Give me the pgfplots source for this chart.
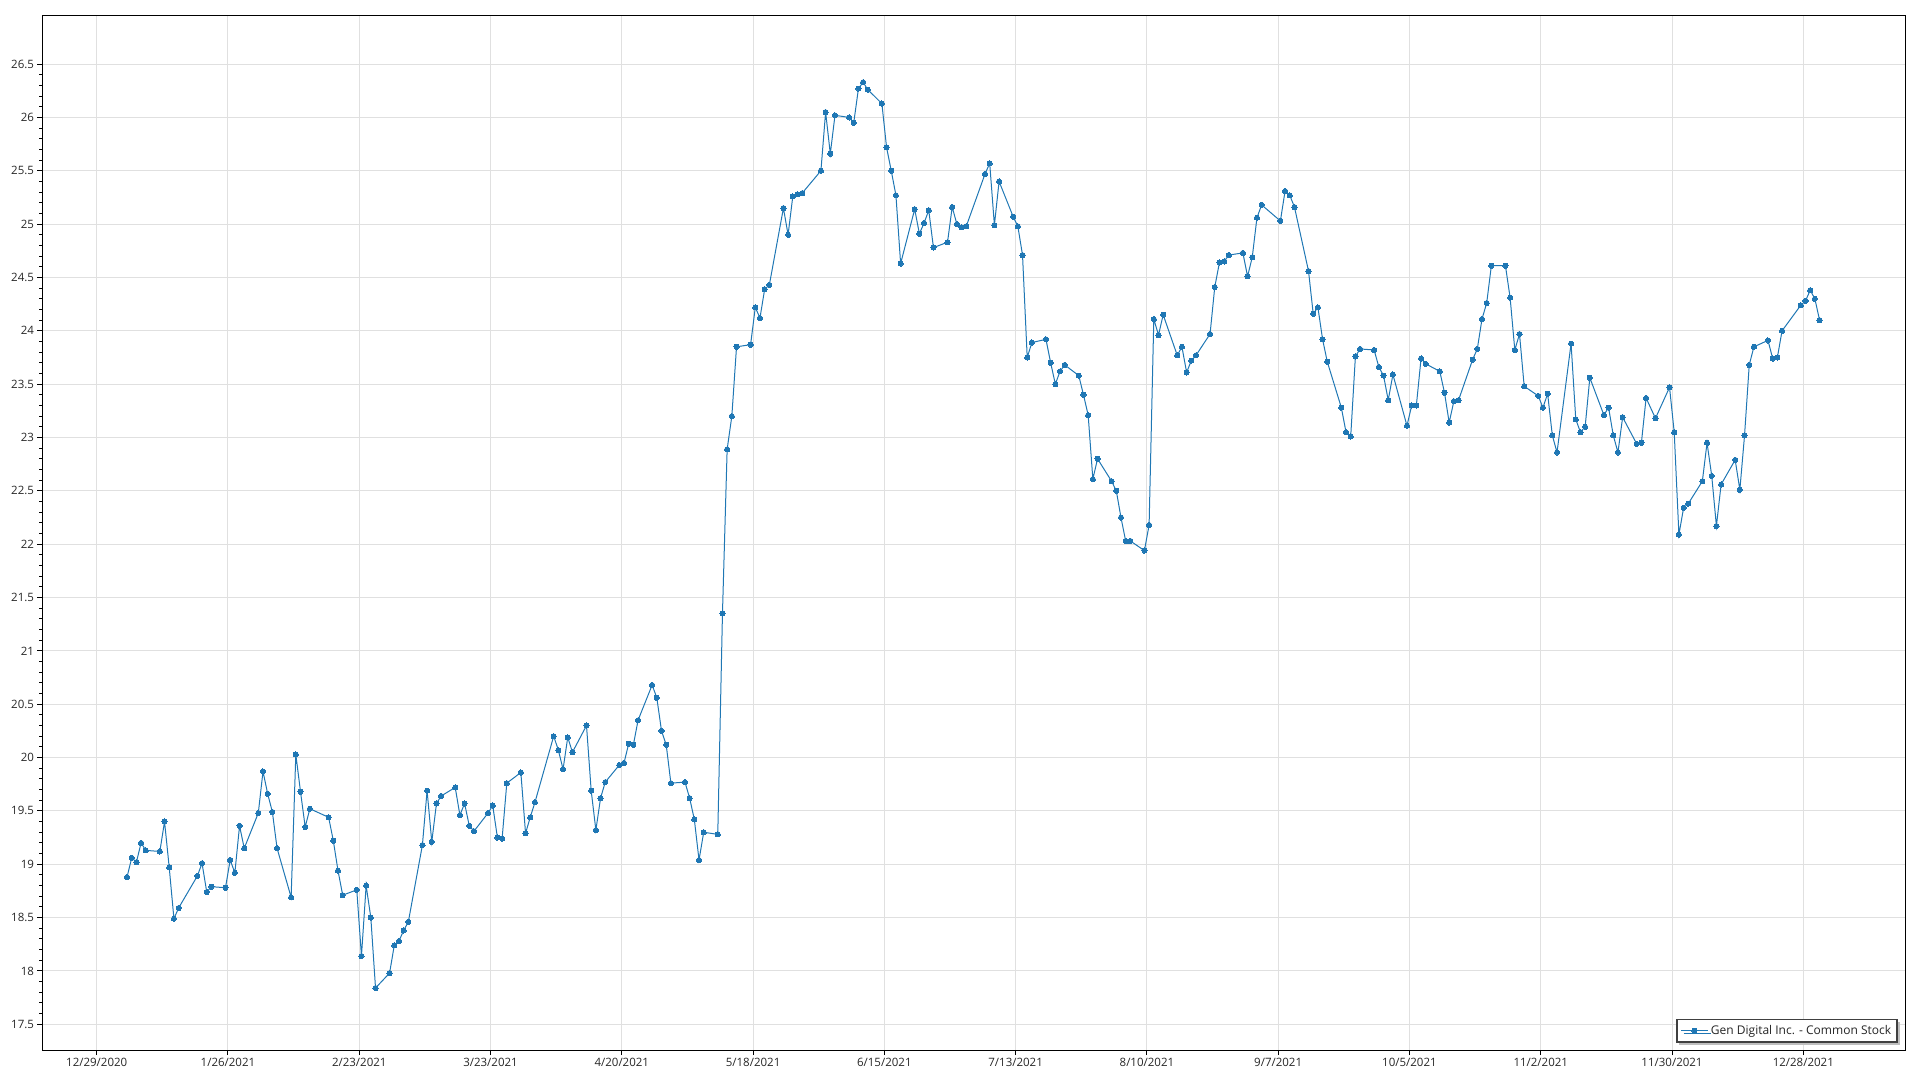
\documentclass[border=0pt]{standalone}
\usepackage{pgfplots}
\pgfplotsset{compat=1.18}
\usepackage{pgfplotstable}
\usepackage{fontspec}
\setmainfont{Open Sans}
\usetikzlibrary{shadows}

\definecolor{series}{RGB}{31,119,180}
\definecolor{gridc}{RGB}{224,224,224}

\pgfplotstableread{
d v
6 18.88
7 19.06
8 19.02
9 19.20
10 19.13
13 19.12
14 19.40
15 18.97
16 18.49
17 18.59
21 18.89
22 19.01
23 18.74
24 18.79
27 18.78
28 19.04
29 18.92
30 19.36
31 19.15
34 19.48
35 19.87
36 19.66
37 19.49
38 19.15
41 18.69
42 20.03
43 19.68
44 19.35
45 19.52
49 19.44
50 19.22
51 18.94
52 18.71
55 18.76
56 18.14
57 18.80
58 18.50
59 17.84
62 17.98
63 18.24
64 18.28
65 18.38
66 18.46
69 19.18
70 19.69
71 19.21
72 19.57
73 19.64
76 19.72
77 19.46
78 19.57
79 19.36
80 19.31
83 19.48
84 19.55
85 19.25
86 19.24
87 19.76
90 19.86
91 19.29
92 19.44
93 19.58
97 20.20
98 20.07
99 19.89
100 20.19
101 20.05
104 20.30
105 19.69
106 19.32
107 19.62
108 19.77
111 19.93
112 19.95
113 20.13
114 20.12
115 20.35
118 20.68
119 20.56
120 20.25
121 20.12
122 19.76
125 19.77
126 19.62
127 19.42
128 19.04
129 19.30
132 19.28
133 21.35
134 22.89
135 23.20
136 23.85
139 23.87
140 24.22
141 24.12
142 24.39
143 24.43
146 25.15
147 24.90
148 25.26
149 25.28
150 25.29
154 25.50
155 26.05
156 25.66
157 26.02
160 26.00
161 25.95
162 26.27
163 26.33
164 26.26
167 26.13
168 25.72
169 25.50
170 25.27
171 24.63
174 25.14
175 24.91
176 25.01
177 25.13
178 24.78
181 24.83
182 25.16
183 25.00
184 24.97
185 24.98
189 25.47
190 25.57
191 24.99
192 25.40
195 25.07
196 24.98
197 24.71
198 23.75
199 23.89
202 23.92
203 23.70
204 23.50
205 23.62
206 23.68
209 23.58
210 23.40
211 23.21
212 22.61
213 22.80
216 22.59
217 22.50
218 22.25
219 22.03
220 22.03
223 21.94
224 22.18
225 24.11
226 23.96
227 24.15
230 23.77
231 23.85
232 23.61
233 23.72
234 23.77
237 23.97
238 24.41
239 24.64
240 24.65
241 24.71
244 24.73
245 24.51
246 24.69
247 25.06
248 25.18
252 25.03
253 25.31
254 25.27
255 25.16
258 24.56
259 24.16
260 24.22
261 23.92
262 23.71
265 23.28
266 23.05
267 23.01
268 23.76
269 23.83
272 23.82
273 23.66
274 23.58
275 23.35
276 23.59
279 23.11
280 23.30
281 23.30
282 23.74
283 23.69
286 23.62
287 23.42
288 23.14
289 23.34
290 23.35
293 23.73
294 23.83
295 24.11
296 24.26
297 24.61
300 24.61
301 24.31
302 23.82
303 23.97
304 23.48
307 23.39
308 23.28
309 23.41
310 23.02
311 22.86
314 23.88
315 23.17
316 23.05
317 23.10
318 23.56
321 23.21
322 23.28
323 23.02
324 22.86
325 23.19
328 22.94
329 22.95
330 23.37
332 23.18
335 23.47
336 23.05
337 22.09
338 22.34
339 22.38
342 22.59
343 22.95
344 22.64
345 22.17
346 22.56
349 22.79
350 22.51
351 23.02
352 23.68
353 23.85
356 23.91
357 23.74
358 23.75
359 24.00
363 24.24
364 24.28
365 24.38
366 24.30
367 24.10
}\stock

\begin{document}
\begin{tikzpicture}
\path[use as bounding box] (-42.5pt,-30pt) rectangle (1877.5pt,1050pt);
\begin{axis}[
  at={(0,0)}, anchor=south west,
  scale only axis, width=1862.5pt, height=1035pt,
  xmin=-11.56, xmax=385.7, ymin=17.259, ymax=26.959,
  xtick={0,28,56,84,112,140,168,196,224,252,280,308,336,364},
  xticklabels={12/29/2020,1/26/2021,2/23/2021,3/23/2021,4/20/2021,5/18/2021,6/15/2021,7/13/2021,8/10/2021,9/7/2021,10/5/2021,11/2/2021,11/30/2021,12/28/2021},
  ytick={17.5,18,18.5,19,19.5,20,20.5,21,21.5,22,22.5,23,23.5,24,24.5,25,25.5,26,26.5},
  minor y tick num=4,
  xmajorgrids, ymajorgrids,
  major grid style={gridc, line width=1pt},
  axis line style={black, line width=1pt},
  tick align=outside,
  xtick pos=bottom, ytick pos=left,
  major tick length=5pt, minor tick length=3pt,
  tick style={black, line width=1pt},
  ticklabel style={font=\fontsize{11.5}{13}\selectfont, text=black!85},
  /pgf/number format/assume math mode=true,
  yticklabel style={/pgf/number format/fixed, /pgf/number format/precision=1},
  legend style={at={(1,0)}, anchor=south east, xshift=-7.3pt, yshift=7.3pt,
    draw=black!75, line width=1.3pt, fill=white,
    drop shadow={shadow xshift=2.5pt, shadow yshift=-2.5pt, fill=black!25, opacity=1},
    font=\fontsize{12}{14}\selectfont, text=black!85,
    inner xsep=4pt, inner ysep=4pt},
  legend image code/.code={%
    \path (0pt,0pt) -- (27pt,0pt);
    \draw[mark repeat=2,mark phase=2, draw opacity=0.6] plot coordinates {(3pt,0pt) (13pt,0pt) (23pt,0pt)};},
]
\addplot[series, line width=1pt, mark=*, mark size=2.6pt,
  mark options={fill=series, draw=series, line width=0pt, draw opacity=1}]
  table[x expr=\thisrow{d}+0.47, y=v] {\stock};
\addlegendentry{Gen Digital Inc. - Common Stock}
\end{axis}
\end{tikzpicture}
\end{document}
